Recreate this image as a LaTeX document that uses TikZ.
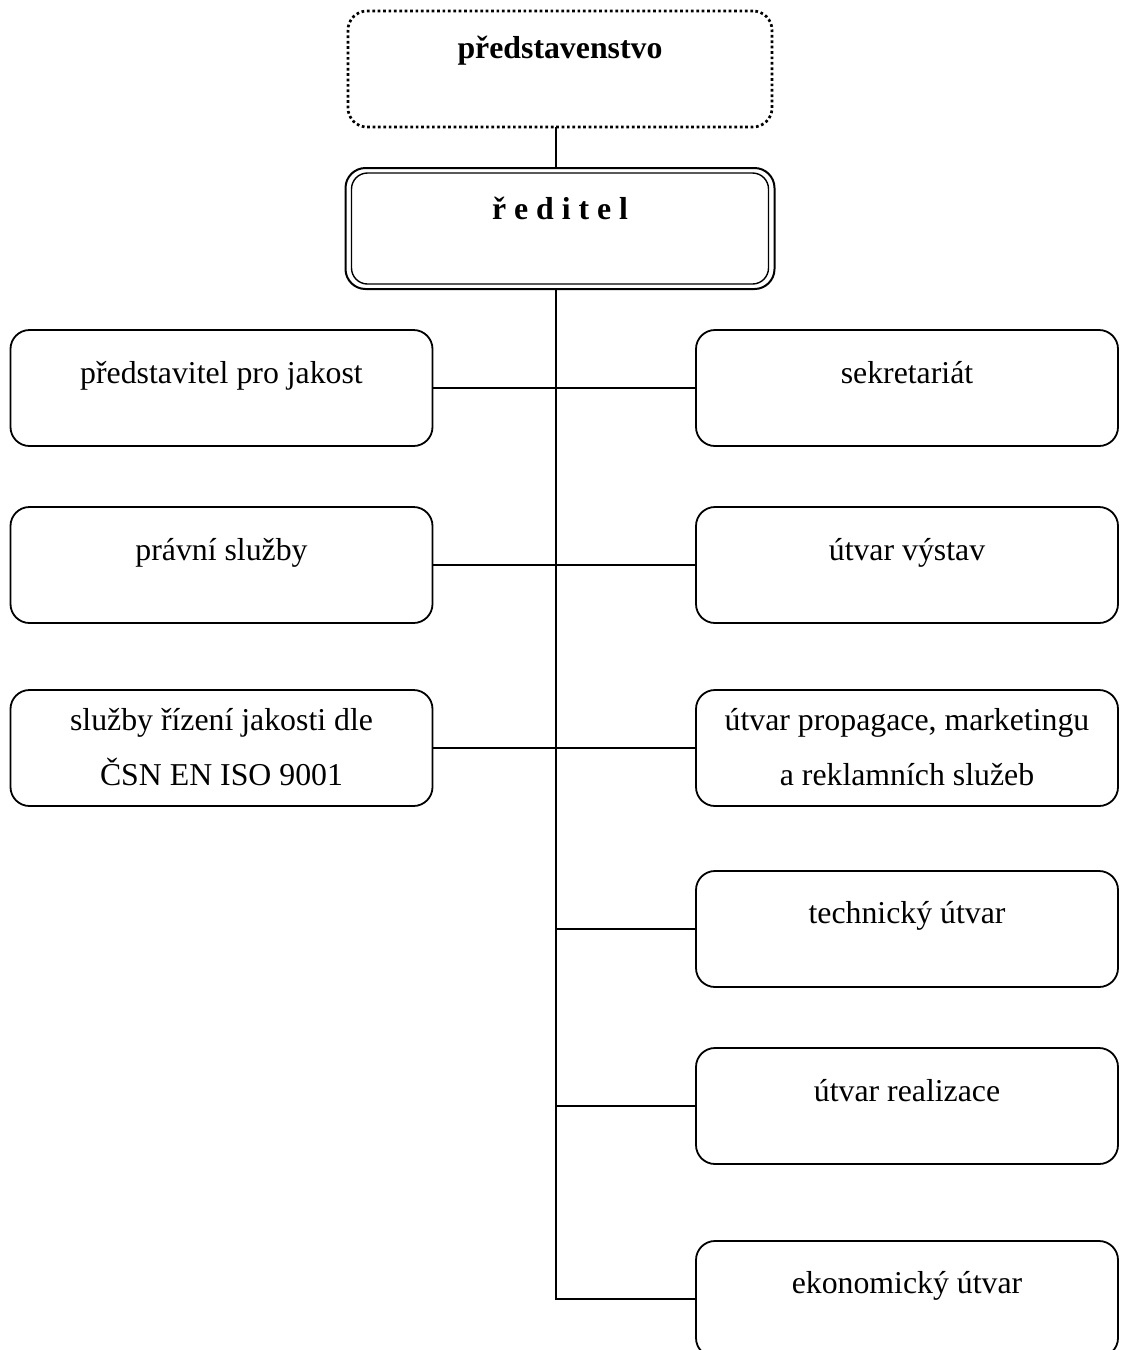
\documentclass[tikz,border=0pt]{standalone}
\usepackage{fontspec}
\setmainfont{Liberation Serif}
\begin{document}
\begin{tikzpicture}[x=1pt,y=-1pt,
  every node/.style={inner sep=0pt,outer sep=0pt},
  unitbox/.style={draw=black,line width=1.8pt,rounded corners=19pt,minimum width=422pt,minimum height=116pt},
  lbl/.style={anchor=base,font=\fontsize{31.8}{55}\selectfont},
  blbl/.style={anchor=base,font=\fontsize{31.8}{55}\selectfont\bfseries},
  conn/.style={draw=black,line width=1.8pt}]
\clip (0,0) rectangle (1121,1350);
\coordinate (trunk) at (556,0);
% top boxes
\node[draw=black,line width=2.7pt,dash pattern=on 2.7pt off 2.7pt,rounded corners=19pt,minimum width=424pt,minimum height=116pt] (pred) at (560,69) {};
\node[blbl] (predt) at (560,58.5) {představenstvo};
\node[draw=black,line width=2pt,rounded corners=20pt,minimum width=429pt,minimum height=121pt] (red) at (560,228.5) {};
\node[draw=black,line width=1.4pt,rounded corners=16pt,minimum width=417pt,minimum height=111pt] (redin) at (560,228.5) {};
\node[blbl] (redt) at (560,219) {ř e d i t e l};
% left boxes
\node[unitbox] (l1) at (221.5,388) {};
\node[lbl] (l1t) at (221.5,383) {představitel pro jakost};
\node[unitbox] (l2) at (221.5,565) {};
\node[lbl] (l2t) at (221.5,560) {právní služby};
\node[unitbox] (l3) at (221.5,748) {};
\node[lbl] (l3t) at (221.5,730) {služby řízení jakosti dle};
\node[lbl] (l3u) at (221.5,785) {ČSN EN ISO 9001};
% right boxes
\node[unitbox] (r1) at (907,388) {};
\node[lbl] (r1t) at (907,383) {sekretariát};
\node[unitbox] (r2) at (907,565) {};
\node[lbl] (r2t) at (907,560) {útvar výstav};
\node[unitbox] (r3) at (907,748) {};
\node[lbl] (r3t) at (907,730) {útvar propagace, marketingu};
\node[lbl] (r3u) at (907,785) {a reklamních služeb};
\node[unitbox] (r4) at (907,929) {};
\node[lbl] (r4t) at (907,923) {technický útvar};
\node[unitbox] (r5) at (907,1106) {};
\node[lbl] (r5t) at (907,1101) {útvar realizace};
\node[unitbox] (r6) at (907,1299) {};
\node[lbl] (r6t) at (907,1293) {ekonomický útvar};
% connectors
\draw[conn] (trunk |- pred.south) -- (trunk |- red.north);
\draw[conn] (trunk |- red.south) -- (trunk |- r6.west) -- (r6.west);
\draw[conn] (l1.east) -- (r1.west);
\draw[conn] (l2.east) -- (r2.west);
\draw[conn] (l3.east) -- (r3.west);
\draw[conn] (trunk |- r4.west) -- (r4.west);
\draw[conn] (trunk |- r5.west) -- (r5.west);
\end{tikzpicture}
\end{document}
